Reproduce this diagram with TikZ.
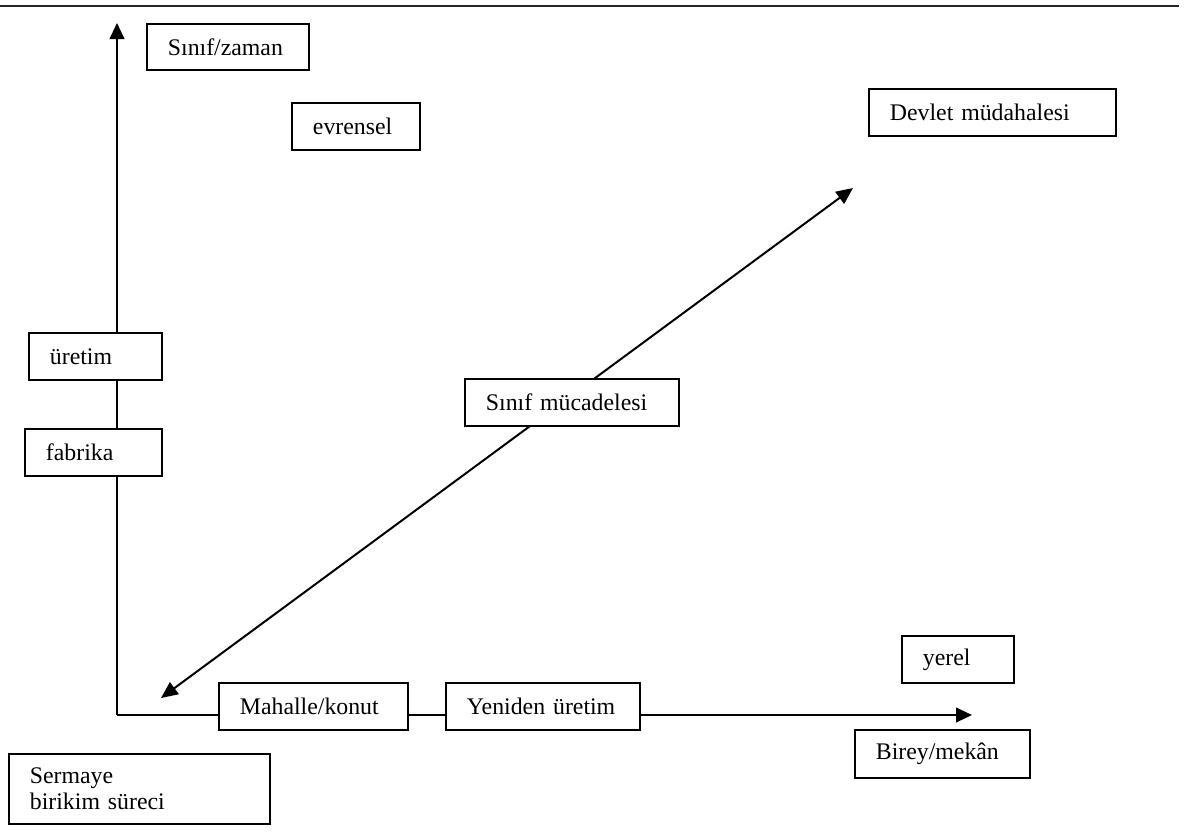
\documentclass[tikz,border=0pt]{standalone}
\usepackage{fontspec}
\setmainfont{Liberation Serif}
\usetikzlibrary{arrows.meta}

\begin{document}
\begin{tikzpicture}[x=0.75pt, y=-0.75pt,
    every node/.style={font=\fontsize{17.85}{19.5}\selectfont},
    box/.style={draw, line width=1.4pt, fill=white, anchor=north west,
      inner xsep=15.75pt, inner ysep=0pt, align=left, minimum height=35.25pt},
    axis/.style={line width=1.5pt, -{Triangle[length=12pt, width=11pt]}}]
  \useasboundingbox (0,0) rectangle (1187,836);
  % Rule at the top of the page
  \draw[line width=2pt, black!85] (0,6) -- (1179,6);
  % Axes and the diagonal
  \coordinate (origin) at (117,715);
  \coordinate (ytip) at (117,23);
  \coordinate (xtip) at (972,715);
  \coordinate (dlow) at (161,698);
  \coordinate (dhigh) at (853,188);
  \draw[axis] (origin) -- (ytip);
  \draw[axis] (origin) -- (xtip);
  \draw[axis, {Triangle[length=12.5pt, width=11pt]}-{Triangle[length=12.5pt, width=11pt]}] (dlow) -- (dhigh);
  % Boxes on the vertical axis
  \node[box, text width=90pt, minimum height=34.5pt] (zaman) at (146,23) {S\i n\i f/zaman};
  \node[box, text width=64.5pt] (evrensel) at (291,102) {evrensel};
  \node[box, text width=68.25pt] (uretim) at (28,332) {üretim};
  \node[box, text width=71.25pt] (fabrika) at (24,428) {fabrika};
  % Box on the diagonal
  \node[box, text width=129pt] (mucadele) at (464,378) {S\i n\i f mücadelesi};
  \node[box, text width=153.75pt] (devlet) at (868,88) {Devlet müdahalesi};
  % Boxes on the horizontal axis
  \node[box, text width=110.25pt] (mahalle) at (218,682) {Mahalle/konut};
  \node[box, text width=114pt] (yeniden) at (445,682) {Yeniden üretim};
  \node[box, text width=52.5pt] (yerel) at (901,635) {yerel};
  \node[box, text width=99.75pt, minimum height=36pt] (birey) at (854,729) {Birey/mekân};
  % Corner box
  \node[box, text width=164.25pt, minimum height=52.5pt, yshift=0pt] (sermaye) at (8,753)
    {\rule{0pt}{6pt}Sermaye\\birikim süreci};
\end{tikzpicture}
\end{document}
